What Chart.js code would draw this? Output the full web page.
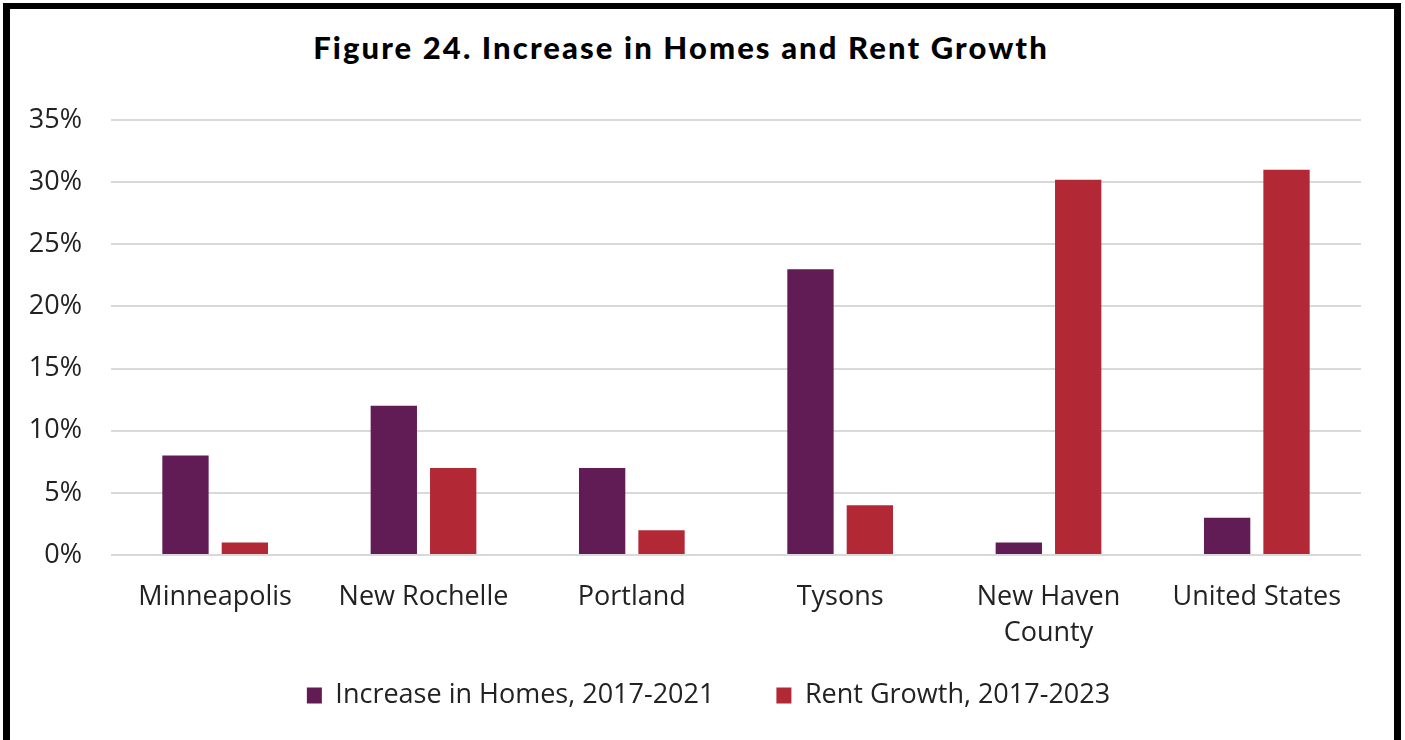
<!DOCTYPE html>
<html>
<head>
<meta charset="utf-8">
<script src="https://cdn.jsdelivr.net/npm/chart.js@4.4.1/dist/chart.umd.min.js"></script>
<style>
  html, body { margin:0; padding:0; background:#fff; width:1405px; height:740px; overflow:hidden; }
  #frame { position:absolute; left:3px; top:3px; width:1384px; height:760px;
           border-left:7px solid #000; border-top:6px solid #000; border-right:7px solid #000; background:#fff; }
  #title { position:absolute; left:0; width:1362px; top:28px; text-align:center;
           font-family:"Lato", sans-serif; font-weight:900; font-size:31px; letter-spacing:2.1px; color:#000; }
  #wrap { position:absolute; left:10px; top:9px; width:1383px; height:731px; }
</style>
</head>
<body>
<div id="frame"></div>
<div id="title">Figure 24. Increase in Homes and Rent Growth</div>
<div id="wrap"><canvas id="c"></canvas></div>
<script>
const categories = ["Minneapolis", "New Rochelle", "Portland", "Tysons", ["New Haven", "County"], "United States"];
const seriesNames = ["Increase in Homes, 2017-2021", "Rent Growth, 2017-2023"];
const homesIncrease = [8, 12, 7, 23, 1, 3];
const rentGrowth = [1, 7, 2, 4, 30.2, 31];
const yTicks = [0, 5, 10, 15, 20, 25, 30, 35];

const font = { family: "'Open Sans', sans-serif", size: 27, lineHeight: 1.333 };

const LEGEND_FIT_HEIGHT = 70;
const LEGEND_TOP = 611;
const LEGEND_DRAW_HEIGHT = 120;
const LEGEND_SHIFT_X = 23;
const legendLayout = {
  id: 'legendLayout',
  beforeLayout(chart) {
    const lg = chart.legend;
    if (lg && !lg._patched) {
      const orig = lg.fit.bind(lg);
      lg.fit = function () { orig(); this.height = LEGEND_FIT_HEIGHT; };
      lg._patched = true;
    }
  },
  afterLayout(chart) {
    const lg = chart.legend;
    if (lg) {
      lg.top = LEGEND_TOP;
      lg.height = LEGEND_DRAW_HEIGHT;
      lg.bottom = LEGEND_TOP + LEGEND_DRAW_HEIGHT;
      lg.left += LEGEND_SHIFT_X;
      lg.right += LEGEND_SHIFT_X;
    }
  }
};

new Chart(document.getElementById('c'), {
  type: 'bar',
  data: {
    labels: categories,
    datasets: [
      { label: seriesNames[0], data: homesIncrease, backgroundColor: '#611b55' },
      { label: seriesNames[1], data: rentGrowth, backgroundColor: '#b22834' }
    ]
  },
  plugins: [legendLayout],
  options: {
    responsive: true,
    maintainAspectRatio: false,
    animation: false,
    categoryPercentage: 0.57,
    barPercentage: 0.78,
    layout: { padding: { top: 111, left: 0, right: 32, bottom: 21 } },
    plugins: {
      title: { display: false },
      tooltip: { enabled: false },
      legend: {
        position: 'bottom',
        labels: { font: font, color: '#222', boxWidth: 15, boxHeight: 16, padding: 62 }
      }
    },
    scales: {
      x: {
        grid: { display: false },
        border: { display: false },
        ticks: { font: font, color: '#222', padding: 16, maxRotation: 0, autoSkip: false },
        afterFit: (scale) => { scale.height = 94; }
      },
      y: {
        min: yTicks[0], max: yTicks[yTicks.length - 1],
        afterBuildTicks: (axis) => { axis.ticks = yTicks.map(v => ({ value: v })); },
        grid: { color: '#d9d9d9', lineWidth: 2, drawTicks: false },
        border: { display: false },
        ticks: { font: font, color: '#222', padding: 29, callback: v => v + '%' },
        afterFit: (scale) => { scale.width = 101; }
      }
    }
  }
});
</script>
</body>
</html>
